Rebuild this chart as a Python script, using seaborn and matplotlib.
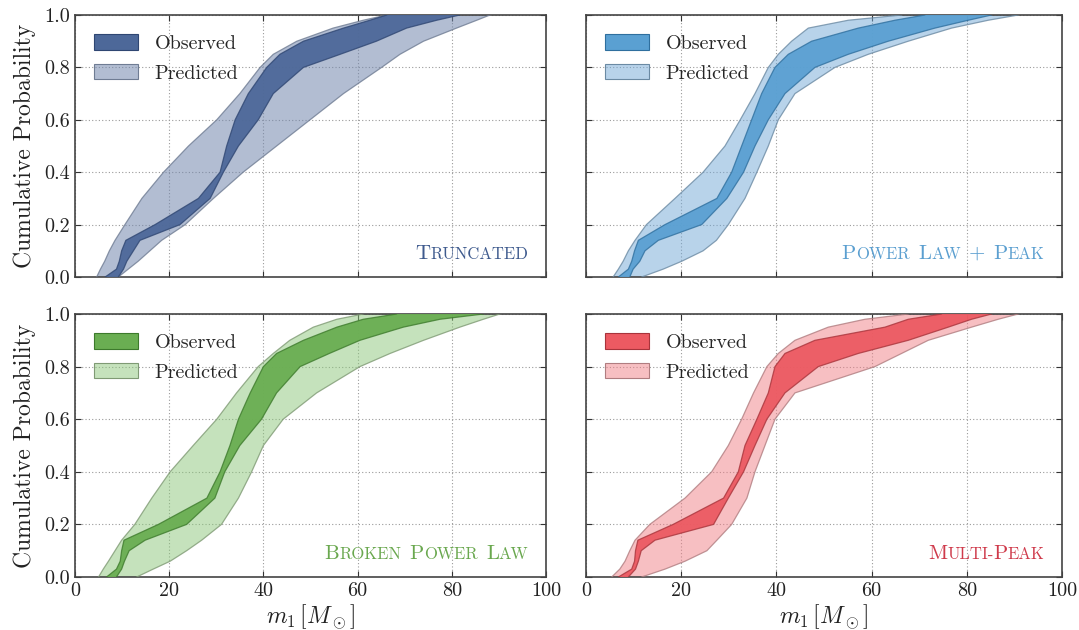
import numpy as np
import matplotlib
matplotlib.use("Agg")
import matplotlib.pyplot as plt
import seaborn as sns
from matplotlib.patches import Patch
from matplotlib.offsetbox import TextArea, HPacker, AnchoredOffsetbox

# cumulative probability levels shared by every band edge
y_levels = [0.0, 0.03, 0.06, 0.1, 0.14, 0.2, 0.3, 0.4, 0.5, 0.6, 0.7, 0.8, 0.85, 0.9, 0.95, 0.98, 1.0]

# Truncated
trunc_pred_lo = [4.6, 5.4, 6.3, 7.3, 8.5, 10.6, 14.2, 18.8, 24.1, 30.1, 35.0, 39.3, 42.1, 47.1, 54.8, 61.2, 66.2]
trunc_pred_hi = [9.2, 11.3, 13.4, 15.9, 18.4, 23.4, 29.4, 35.7, 42.8, 49.9, 57.0, 65.1, 69.0, 74.0, 81.0, 85.3, 88.1]
trunc_obs_lo = [6.4, 8.8, 9.4, 9.9, 10.8, 17.0, 26.2, 30.8, 32.2, 34.0, 36.8, 40.7, 43.5, 48.5, 57.0, 62.6, 66.2]
trunc_obs_hi = [9.2, 10.3, 11.0, 12.4, 13.8, 22.3, 28.7, 31.5, 34.7, 38.9, 42.1, 48.5, 56.3, 64.0, 70.4, 76.8, 81.7]

# Power Law + Peak
plp_pred_lo = [5.7, 6.8, 7.8, 8.9, 10.3, 12.7, 18.7, 24.6, 29.2, 32.4, 35.5, 38.3, 40.4, 43.2, 46.7, 55.1, 66.3]
plp_pred_hi = [11.7, 16.2, 20.1, 24.6, 27.4, 29.9, 33.4, 35.9, 38.3, 40.4, 43.9, 52.3, 59.3, 67.7, 76.8, 84.5, 90.8]
plp_obs_lo = [6.8, 8.9, 9.6, 10.2, 11.0, 16.6, 27.5, 30.6, 32.7, 34.8, 36.9, 39.7, 42.5, 47.4, 57.2, 64.9, 71.2]
plp_obs_hi = [9.2, 9.9, 11.3, 12.4, 15.2, 24.3, 29.6, 33.1, 35.5, 38.3, 41.8, 48.1, 55.1, 63.5, 73.3, 80.3, 85.2]

# Broken Power Law
bpl_pred_lo = [5.0, 6.0, 7.1, 8.5, 9.9, 12.7, 16.3, 20.2, 25.1, 30.1, 34.3, 38.9, 42.1, 45.6, 50.6, 55.6, 61.2]
bpl_pred_hi = [13.1, 16.6, 20.2, 23.7, 26.9, 31.1, 34.7, 37.5, 40.0, 44.2, 51.3, 60.5, 66.9, 74.0, 81.7, 86.7, 90.2]
bpl_obs_lo = [6.7, 8.8, 9.6, 9.9, 10.4, 17.7, 28.0, 30.8, 32.9, 34.7, 37.2, 40.0, 42.8, 48.5, 55.6, 61.2, 68.3]
bpl_obs_hi = [8.8, 9.9, 10.5, 11.5, 14.9, 23.7, 29.7, 31.8, 35.0, 39.6, 42.8, 47.8, 54.0, 60.5, 69.7, 77.5, 86.7]

# Multi-Peak
mp_pred_lo = [5.4, 7.1, 8.2, 9.2, 10.3, 13.4, 20.8, 26.4, 29.9, 32.7, 35.2, 38.0, 40.4, 43.9, 50.9, 58.6, 67.7]
mp_pred_hi = [11.7, 16.6, 20.8, 25.4, 27.5, 30.6, 33.8, 35.5, 37.6, 39.7, 43.9, 60.7, 66.3, 71.9, 81.0, 86.6, 90.8]
mp_obs_lo = [6.8, 9.6, 10.2, 10.4, 10.9, 18.3, 28.9, 32.0, 33.4, 35.9, 38.3, 39.7, 41.8, 48.1, 62.8, 67.7, 74.7]
mp_obs_hi = [8.9, 10.4, 11.0, 11.6, 14.5, 26.8, 29.9, 33.1, 35.5, 38.0, 41.8, 48.8, 57.2, 67.7, 76.1, 81.0, 85.2]

model_labels = [["T", "runcated"], ["P", "ower ", "L", "aw ", "+ ", "P", "eak"],
                ["B", "roken ", "P", "ower ", "L", "aw"], ["M", "ulti-", "P", "eak"]]
legend_labels = ["Observed", "Predicted"]
x_ticks = [0, 20, 40, 60, 80, 100]
y_ticks = [0.0, 0.2, 0.4, 0.6, 0.8, 1.0]

sns.set_style("ticks")
plt.rcParams.update({
    "font.family": ["cmr10"],
    "mathtext.fontset": "cm",
    "axes.formatter.use_mathtext": True,
    "axes.unicode_minus": False,
})

panels = [
    (trunc_pred_lo, trunc_pred_hi, trunc_obs_lo, trunc_obs_hi),
    (plp_pred_lo, plp_pred_hi, plp_obs_lo, plp_obs_hi),
    (bpl_pred_lo, bpl_pred_hi, bpl_obs_lo, bpl_obs_hi),
    (mp_pred_lo, mp_pred_hi, mp_obs_lo, mp_obs_hi),
]
# (observed face, observed edge, predicted face rgba, predicted edge, label color)
styles = [
    ("#4d6899", "#2f4672", (0.45, 0.53, 0.68, 0.55), "#6f7c93", "#3f5b8e"),
    ("#5aa0d2", "#2f6f9e", (0.45, 0.66, 0.84, 0.50), "#6b8aa3", "#5b9fd0"),
    ("#6aae52", "#3d7a2c", (0.55, 0.78, 0.48, 0.50), "#7f9a74", "#6aa84f"),
    ("#ec5a62", "#a8343b", (0.94, 0.50, 0.53, 0.50), "#b07d80", "#cf3a4b"),
]

fig = plt.figure(figsize=(10.79, 6.30), dpi=100)
W, H = 1079, 630
boxes = [(75, 15, 471, 262), (586, 15, 476, 262), (75, 314, 471, 263), (586, 314, 476, 263)]
Y = np.array(y_levels)

for i, ((plo, phi, olo, ohi), (oc, oe, pc, pe, lc), (bx, by, bw, bh)) in enumerate(zip(panels, styles, boxes)):
    ax = fig.add_axes([bx / W, 1 - (by + bh) / H, bw / W, bh / H])
    ax.grid(True, linestyle=(0, (1, 2)), color="#9a9a9a", linewidth=0.8)
    ax.set_axisbelow(True)
    ax.fill_betweenx(Y, plo, phi, facecolor=pc, edgecolor="none", zorder=2)
    for edge in (plo, phi):
        sns.lineplot(x=edge, y=Y, sort=False, estimator=None, color=pe, lw=0.9, alpha=0.8, ax=ax, zorder=3)
    ax.fill_betweenx(Y, olo, ohi, facecolor=oc, edgecolor="none", alpha=0.95, zorder=4)
    for edge in (olo, ohi):
        sns.lineplot(x=edge, y=Y, sort=False, estimator=None, color=oe, lw=0.9, alpha=0.8, ax=ax, zorder=5)

    ax.set_xlim(0, 100)
    ax.set_ylim(0, 1)
    ax.set_xticks(x_ticks)
    ax.set_yticks(y_ticks)
    ax.tick_params(direction="in", top=True, right=True, length=4, width=0.8,
                   labelsize=14.5, colors="#333333", labelcolor="#222222")
    for s in ax.spines.values():
        s.set_color("#444444")
        s.set_linewidth(1.2)
    if i % 2 == 0:
        ax.set_yticklabels([f"{v:.1f}" for v in y_ticks])
        ax.set_ylabel("Cumulative Probability", fontsize=17, color="#222222", labelpad=6)
    else:
        ax.set_yticklabels([])
        ax.set_ylabel("")
    if i >= 2:
        ax.set_xticklabels([str(v) for v in x_ticks])
        ax.set_xlabel(r"$m_1\,[M_\odot]$", fontsize=17, color="#222222", labelpad=2)
    else:
        ax.set_xticklabels([])
        ax.set_xlabel("")

    handles = [Patch(facecolor=oc, edgecolor=oe, linewidth=0.8),
               Patch(facecolor=pc, edgecolor=pe, linewidth=0.8)]
    ax.legend(handles, legend_labels, loc="upper left", frameon=False, fontsize=14.5,
              handlelength=2.2, handleheight=0.8, handletextpad=0.8, labelspacing=0.55,
              borderaxespad=0.65, borderpad=0.3)

    # small-caps label
    pieces = model_labels[i]
    words, cur = [], []
    for p in pieces:
        big = p[:1].isupper() or p.strip() == "+"
        txt = p.rstrip(" ")
        if big:
            ta = TextArea(txt, textprops=dict(fontsize=15, color=lc))
        else:
            ta = TextArea(txt.upper(), textprops=dict(fontsize=12, color=lc))
        cur.append(ta)
        if p.endswith(" "):
            words.append(HPacker(children=cur, align="baseline", pad=0, sep=0))
            cur = []
    if cur:
        words.append(HPacker(children=cur, align="baseline", pad=0, sep=0))
    box = HPacker(children=words, align="baseline", pad=0, sep=6)
    anch = AnchoredOffsetbox(loc="lower right", child=box, frameon=False,
                             bbox_to_anchor=(0.963, 0.055), bbox_transform=ax.transAxes, pad=0, borderpad=0)
    ax.add_artist(anch)

fig.savefig("out.png", dpi=100)
